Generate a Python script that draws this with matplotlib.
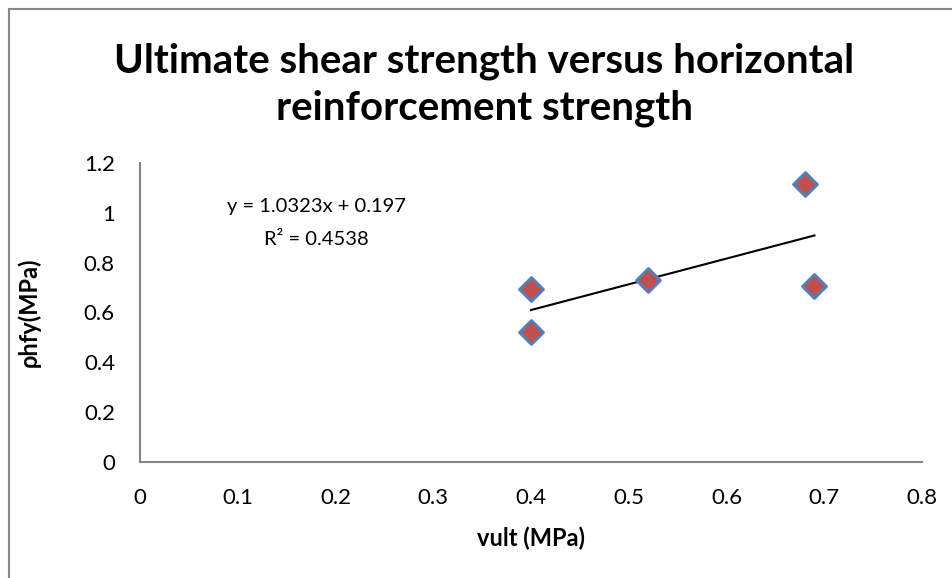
import matplotlib
matplotlib.use("Agg")
import matplotlib.pyplot as plt
from matplotlib.patches import Rectangle

plt.rcParams['font.family'] = ['Lato', 'DejaVu Sans']

# shear strength test results
vult = [0.40, 0.40, 0.52, 0.68, 0.69]
rho_hfy = [0.695, 0.52, 0.73, 1.115, 0.705]

# linear trendline reported on the chart
slope = 1.0323
intercept = 0.197
r_squared = 0.4538

x_ticks = [0, 0.1, 0.2, 0.3, 0.4, 0.5, 0.6, 0.7, 0.8]
y_ticks = [0, 0.2, 0.4, 0.6, 0.8, 1.0, 1.2]

fig = plt.figure(figsize=(9.53, 5.78), dpi=100)
ax = fig.add_axes([140 / 953, 116 / 578, 782 / 953, 299 / 578])

ax.scatter(vult, rho_hfy, marker='D', s=150, facecolor='#C0504D',
           edgecolor='#4F81BD', linewidth=2, zorder=3)

x0, x1 = min(vult), max(vult)
ax.plot([x0, x1], [slope * x0 + intercept, slope * x1 + intercept],
        color='black', linewidth=1.5, zorder=2)

ax.set_xlim(0, 0.8)
ax.set_ylim(0, 1.2)
ax.set_xticks(x_ticks)
ax.set_yticks(y_ticks)
ax.set_xticklabels([f"{v:g}" for v in x_ticks])
ax.set_yticklabels([f"{v:g}" for v in y_ticks])
ax.tick_params(length=0, labelsize=16)
ax.tick_params(axis='x', pad=19)
ax.tick_params(axis='y', pad=18)

for side in ('top', 'right'):
    ax.spines[side].set_visible(False)
for side in ('left', 'bottom'):
    ax.spines[side].set_color('#868686')
    ax.spines[side].set_linewidth(1.5)

ax.set_xlabel('vult (MPa)', fontsize=17, fontweight='bold')
ax.xaxis.set_label_coords(0.5, -0.215)
ax.set_ylabel('ρhfy(MPa)', fontsize=17, fontweight='bold')
ax.yaxis.set_label_coords(-0.127, 0.5)

fig.text(0.508, 1 - 85 / 578, 'Ultimate shear strength versus horizontal\nreinforcement strength',
         ha='center', va='center', fontsize=29, fontweight='bold', linespacing=1.3)

fig.text(316 / 953, 1 - 223 / 578,
         f"y = {slope}x + {intercept}\nR² = {r_squared}",
         ha='center', va='center', fontsize=14.5, linespacing=2.2)

# chart area outline
fig.patches.append(Rectangle((9 / 953, -0.1), 1.2, 1 - 9 / 578 + 0.1,
                             transform=fig.transFigure, fill=False,
                             edgecolor='#868686', linewidth=1.5))

fig.savefig('out.png', dpi=100)
